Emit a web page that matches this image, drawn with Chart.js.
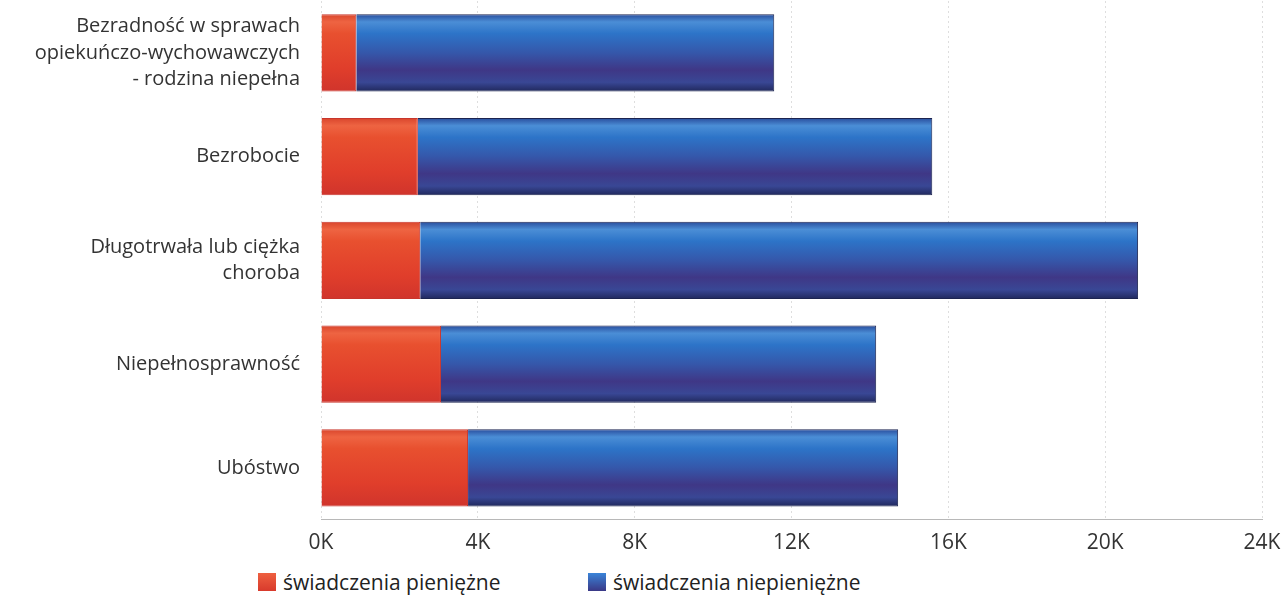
<!DOCTYPE html>
<html lang="pl">
<head>
<meta charset="utf-8">
<title>Świadczenia</title>
<script src="https://cdn.jsdelivr.net/npm/chart.js@4.4.1/dist/chart.umd.min.js"></script>
<style>
  body { margin: 0; background: #fff; width: 1283px; height: 598px; overflow: hidden; position: relative; }
  #wrap { position: absolute; left: 0; top: 0; width: 1283px; height: 567px; }
  .legend-item { position: absolute; top: 568px; display: flex; align-items: center;
    font-family: "Open Sans", sans-serif; font-size: 21px; color: #222; }
  .legend-box { width: 18px; height: 18px; margin-right: 7px; }
</style>
</head>
<body>
<div id="wrap"><canvas id="chart"></canvas></div>
<div class="legend-item" style="left:258px"><span class="legend-box" id="box-0"></span><span id="lab-0"></span></div>
<div class="legend-item" style="left:588px"><span class="legend-box" id="box-1"></span><span id="lab-1"></span></div>

<script>
const categories = [
  ["Bezradność w sprawach", "opiekuńczo-wychowawczych", "- rodzina niepełna"],
  "Bezrobocie",
  ["Długotrwała lub ciężka", "choroba"],
  "Niepełnosprawność",
  "Ubóstwo"
];
const series_names = ["świadczenia pieniężne", "świadczenia niepieniężne"];
const pieniezne = [900, 2470, 2530, 3060, 3750];
const niepieniezne = [10660, 13120, 18310, 11100, 10970];
const x_ticks = [0, 4000, 8000, 12000, 16000, 20000, 24000];

const bar_share = 0.745;

// vertical shading for each bar, like the original glossy bars
function barGradient(ctx, stops, fallback) {
  const chart = ctx.chart;
  if (!chart.chartArea || !chart.scales.y) return fallback;
  const y = chart.scales.y.getPixelForValue(ctx.dataIndex);
  const half = chart.scales.y.height / categories.length * bar_share / 2;
  const g = chart.ctx.createLinearGradient(0, y - half, 0, y + half);
  stops.forEach(s => g.addColorStop(s[0], s[1]));
  return g;
}

const red_stops = [[0, "#d9452c"], [0.1, "#ee6442"], [0.25, "#e8502f"], [0.7, "#e03e2b"], [1, "#d0342c"]];
const blue_stops = [[0, "#284c9c"], [0.1, "#4b8ed6"], [0.25, "#2d74c8"], [0.5, "#3557aa"], [0.72, "#3f3786"], [0.88, "#394795"], [1, "#20285c"]];

document.getElementById("box-0").style.background = "linear-gradient(#ee6040, #d83a2c)";
document.getElementById("box-1").style.background = "linear-gradient(#3a84d8, #3a3886)";
document.getElementById("lab-0").textContent = series_names[0];
document.getElementById("lab-1").textContent = series_names[1];

new Chart(document.getElementById("chart"), {
  type: "bar",
  data: {
    labels: categories,
    datasets: [
      {
        label: series_names[0],
        data: pieniezne,
        backgroundColor: ctx => barGradient(ctx, red_stops, "#e4462e"),
        borderColor: "#c8352c",
        borderWidth: 1
      },
      {
        label: series_names[1],
        data: niepieniezne,
        backgroundColor: ctx => barGradient(ctx, blue_stops, "#3560b0"),
        borderColor: "#1c2450",
        borderWidth: 1
      }
    ]
  },
  options: {
    indexAxis: "y",
    responsive: true,
    maintainAspectRatio: false,
    animation: false,
    datasets: { bar: { barPercentage: bar_share, categoryPercentage: 1 } },
    layout: { padding: { top: 1, right: 21, left: 0, bottom: 0 } },
    plugins: {
      legend: { display: false },
      tooltip: { enabled: false }
    },
    scales: {
      x: {
        stacked: true,
        min: 0,
        max: 24000,
        afterBuildTicks: scale => { scale.ticks = x_ticks.map(v => ({ value: v })); },
        afterFit: scale => { scale.paddingRight = 0; scale.paddingLeft = 0; },
        ticks: {
          padding: 11,
          color: "#333",
          font: { family: "'Open Sans', sans-serif", size: 21 },
          callback: v => (v / 1000) + "K"
        },
        grid: { color: "#dedede", drawTicks: false, lineWidth: 1 },
        border: { display: true, color: "#b8b8b8", dash: [2, 3] }
      },
      y: {
        stacked: true,
        afterFit: scale => {
          scale.width = 321;
          scale.paddingTop = 0;   // let the 3-line label sit above the plot
          scale.paddingBottom = 0;
        },
        ticks: {
          padding: 21,
          color: "#333",
          font: { family: "'Open Sans', sans-serif", size: 20, lineHeight: 1.32 }
        },
        grid: { display: false, drawTicks: false },
        border: { display: false }
      }
    }
  }
});
</script>
</body>
</html>
